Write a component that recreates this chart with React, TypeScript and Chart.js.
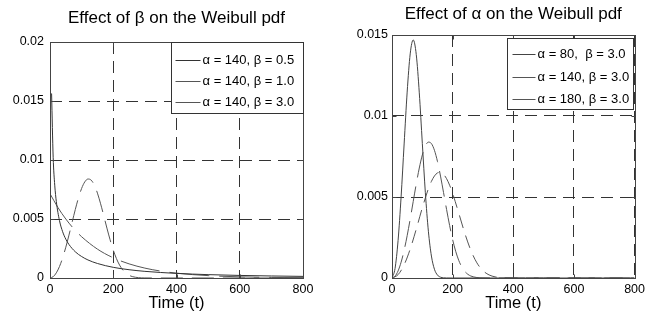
import React, { useEffect, useRef } from 'react';
import { Chart, registerables } from 'chart.js';

Chart.register(...registerables);

const FONT = "'Liberation Sans', Arial, Helvetica, sans-serif";

// ---------- Left panel: alpha = 140, varying beta ----------
const tB05 = [5, 10, 15, 20, 30, 40, 50, 60, 80, 100, 120, 150, 200, 250, 300, 400, 500, 600, 700, 800];
const fB05 = [0.01564, 0.01023, 0.00787, 0.00648, 0.00486, 0.00392, 0.00329, 0.00284, 0.00222, 0.00182, 0.00153, 0.00123, 0.000904, 0.000702, 0.000564, 0.00039, 0.000286, 0.000218, 0.000171, 0.000137];

const tB10 = [0, 25, 50, 75, 100, 150, 200, 250, 300, 350, 400, 500, 600, 700, 800];
const fB10 = [0.007143, 0.005975, 0.004998, 0.00418, 0.003497, 0.002447, 0.001712, 0.001198, 0.000838, 0.000586, 0.00041, 0.000201, 0.0000983, 0.0000481, 0.0000236];

const tB30 = [0, 10, 20, 30, 40, 50, 60, 70, 80, 90, 100, 110, 120, 130, 140, 150, 160, 170, 180, 190, 200, 210, 220, 230, 240, 250, 260, 280, 300, 350, 400, 500, 600, 700, 800];
const fB30 = [0, 0.000109, 0.000436, 0.000974, 0.001709, 0.002612, 0.003638, 0.004728, 0.005806, 0.00679, 0.007594, 0.008145, 0.008388, 0.008297, 0.007883, 0.007191, 0.006291, 0.005274, 0.004228, 0.003241, 0.002369, 0.00165, 0.001093, 0.000686, 0.000409, 0.00023, 0.000122, 0.0000288, 0.0000052, 0, 0, 0, 0, 0, 0];

// ---------- Right panel: beta = 3, varying alpha ----------
const tA80 = [0, 10, 20, 30, 40, 50, 60, 70, 80, 90, 100, 110, 120, 130, 140, 150, 160, 170, 180, 200, 300, 400, 500, 600, 700, 800];
const fA80 = [0, 0.000585, 0.002307, 0.005003, 0.008273, 0.011475, 0.013833, 0.014693, 0.013795, 0.011428, 0.008312, 0.005268, 0.002887, 0.001356, 0.00054, 0.000181, 0.0000503, 0.0000115, 0.000002, 0, 0, 0, 0, 0, 0, 0];

const tA140 = tB30;
const fA140 = fB30;

const tA180 = [0, 20, 40, 60, 80, 100, 120, 130, 140, 150, 160, 170, 180, 190, 200, 220, 240, 260, 280, 300, 320, 340, 360, 400, 500, 600, 700, 800];
const fA180 = [0, 0.000206, 0.000814, 0.001785, 0.003016, 0.004334, 0.005508, 0.005965, 0.006298, 0.006488, 0.006524, 0.006403, 0.006131, 0.005729, 0.005219, 0.004011, 0.002769, 0.001708, 0.000935, 0.000452, 0.000191, 0.0000703, 0.0000224, 0.0000014, 0, 0, 0, 0];

// ---------- labels ----------
const xTickLabels = ['0', '200', '400', '600', '800'];
const yTickLabelsLeft = ['0', '0.005', '0.01', '0.015', '0.02'];
const yTickLabelsRight = ['0', '0.005', '0.01', '0.015'];
const legendLeft = ['\u03b1 = 140, \u03b2 = 0.5', '\u03b1 = 140, \u03b2 = 1.0', '\u03b1 = 140, \u03b2 = 3.0'];
const legendRight = ['\u03b1 = 80,  \u03b2 = 3.0', '\u03b1 = 140, \u03b2 = 3.0', '\u03b1 = 180, \u03b2 = 3.0'];
const titleLeft = 'Effect of \u03b2 on the Weibull pdf';
const titleRight = 'Effect of \u03b1 on the Weibull pdf';
const xTitle = 'Time (t)';

type Series = { t: number[]; f: number[]; color: string; dash: number[] };
type Panel = {
  id: string;
  title: string;
  titleBaseline: number;
  yMax: number;
  yLabels: string[];
  yWidth: number;
  yPad: number;
  padTop: number;
  padRight: number;
  series: Series[];
  labels: string[];
  legend: { right: number; top: number; w: number; h: number; l0: number; l1: number; tx: number; rows: number[] };
};

const leftPanel: Panel = {
  id: 'L',
  title: titleLeft,
  titleBaseline: 23,
  yMax: 0.02,
  yLabels: yTickLabelsLeft,
  yWidth: 50,
  yPad: 6,
  padTop: 42,
  padRight: 22,
  series: [
    { t: tB05, f: fB05, color: '#333333', dash: [] },
    { t: tB10, f: fB10, color: '#555555', dash: [40, 10] },
    { t: tB30, f: fB30, color: '#555555', dash: [22, 9] },
  ],
  labels: legendLeft,
  legend: { right: 0, top: 0, w: 132, h: 71, l0: 4, l1: 29, tx: 31, rows: [17.5, 38.5, 59] },
};

const rightPanel: Panel = {
  id: 'R',
  title: titleRight,
  titleBaseline: 19,
  yMax: 0.015,
  yLabels: yTickLabelsRight,
  yWidth: 67,
  yPad: 4,
  padTop: 35,
  padRight: 14,
  series: [
    { t: tA80, f: fA80, color: '#444444', dash: [] },
    { t: tA140, f: fA140, color: '#555555', dash: [26, 9] },
    { t: tA180, f: fA180, color: '#555555', dash: [13, 8] },
  ],
  labels: legendRight,
  legend: { right: 2, top: 3, w: 126, h: 71, l0: 5, l1: 28, tx: 30, rows: [15.5, 38, 60] },
};

function panelPlugin(p: Panel) {
  return {
    id: 'panel' + p.id,
    afterDatasetsDraw(chart: any) {
      const { ctx, chartArea: a, scales } = chart;
      const line = (x1: number, y1: number, x2: number, y2: number) => {
        ctx.beginPath();
        ctx.moveTo(x1, y1);
        ctx.lineTo(x2, y2);
        ctx.stroke();
      };
      ctx.save();
      ctx.setLineDash([]);
      ctx.lineWidth = 1;
      ctx.strokeStyle = '#444444';
      const L = Math.round(a.left) + 0.5;
      const R = Math.round(a.right) + 0.5;
      const T = Math.round(a.top) + 0.5;
      const B = Math.round(a.bottom) + 0.5;
      ctx.strokeRect(L, T, R - L, B - T);
      const tl = 4;
      scales.x.ticks.forEach((t: any) => {
        const px = Math.round(scales.x.getPixelForValue(t.value)) + 0.5;
        line(px, B, px, B - tl);
        line(px, T, px, T + tl);
      });
      scales.y.ticks.forEach((t: any) => {
        const py = Math.round(scales.y.getPixelForValue(t.value)) + 0.5;
        line(L, py, L + tl, py);
        line(R, py, R - tl, py);
      });
      // legend
      const lg = p.legend;
      const bx = Math.round(a.right - lg.right - lg.w) + 0.5;
      const by = Math.round(a.top + lg.top) + 0.5;
      ctx.fillStyle = '#ffffff';
      ctx.fillRect(bx, by, lg.w, lg.h);
      ctx.strokeStyle = '#333333';
      ctx.strokeRect(bx, by, lg.w, lg.h);
      ctx.font = `13px ${FONT}`;
      ctx.textBaseline = 'middle';
      ctx.textAlign = 'left';
      p.labels.forEach((lab, i) => {
        const y = Math.round(by + lg.rows[i]) + 0.5;
        ctx.strokeStyle = p.series[i].color;
        line(bx + lg.l0, y, bx + lg.l1, y);
        ctx.fillStyle = '#000000';
        ctx.fillText(lab, bx + lg.tx, y);
      });
      ctx.restore();
    },
    afterDraw(chart: any) {
      const { ctx, chartArea: a } = chart;
      ctx.save();
      ctx.font = `17px ${FONT}`;
      ctx.fillStyle = '#000000';
      ctx.textAlign = 'center';
      ctx.textBaseline = 'alphabetic';
      ctx.fillText(p.title, (a.left + a.right) / 2, p.titleBaseline);
      ctx.restore();
    },
  };
}

function makeConfig(p: Panel): any {
  return {
    type: 'line',
    data: {
      datasets: p.series.map((s, k) => ({
        label: p.labels[k],
        data: s.t.map((x, i) => ({ x, y: s.f[i] })),
        borderColor: s.color,
        borderWidth: 1,
        borderDash: s.dash,
        pointRadius: 0,
        fill: false,
        cubicInterpolationMode: 'monotone',
      })),
    },
    options: {
      responsive: false,
      animation: false,
      devicePixelRatio: 1,
      layout: { padding: { top: p.padTop, right: p.padRight, left: 0, bottom: 0 } },
      plugins: { legend: { display: false }, tooltip: { enabled: false }, title: { display: false } },
      scales: {
        x: {
          type: 'linear',
          min: 0,
          max: 800,
          ticks: {
            stepSize: 200,
            autoSkip: false,
            maxRotation: 0,
            padding: 4,
            color: '#000000',
            font: { family: FONT, size: 12.5 },
            callback: (_v: any, i: number) => xTickLabels[i],
          },
          grid: { color: '#333333', lineWidth: 1, drawTicks: false },
          border: { display: false, dash: [12, 7] },
          title: {
            display: true,
            text: xTitle,
            color: '#000000',
            font: { family: FONT, size: 16.5 },
            padding: { top: 0, bottom: 8 },
          },
          afterFit: (s: any) => {
            s.height = 43;
          },
        },
        y: {
          type: 'linear',
          min: 0,
          max: p.yMax,
          ticks: {
            stepSize: 0.005,
            autoSkip: false,
            padding: p.yPad,
            color: '#000000',
            font: { family: FONT, size: 12.5 },
            callback: (_v: any, i: number) => p.yLabels[i],
          },
          grid: { color: '#333333', lineWidth: 1, drawTicks: false },
          border: { display: false, dash: [12, 7] },
          afterFit: (s: any) => {
            s.width = p.yWidth;
          },
        },
      },
    },
    plugins: [panelPlugin(p)],
  };
}

export default function App() {
  const leftRef = useRef<HTMLCanvasElement>(null);
  const rightRef = useRef<HTMLCanvasElement>(null);
  useEffect(() => {
    const c1 = new Chart(leftRef.current as HTMLCanvasElement, makeConfig(leftPanel));
    const c2 = new Chart(rightRef.current as HTMLCanvasElement, makeConfig(rightPanel));
    return () => {
      c1.destroy();
      c2.destroy();
    };
  }, []);
  return (
    <div style={{ position: 'fixed', left: 0, top: 0, width: 649, height: 321, background: '#ffffff', overflow: 'hidden' }}>
      <canvas ref={leftRef} width={325} height={321} style={{ position: 'absolute', left: 0, top: 0, width: 325, height: 321 }} />
      <canvas ref={rightRef} width={324} height={321} style={{ position: 'absolute', left: 325, top: 0, width: 324, height: 321 }} />
    </div>
  );
}
